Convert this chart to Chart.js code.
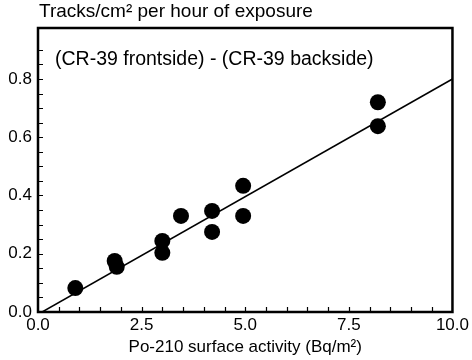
<!DOCTYPE html>
<html><head><meta charset="utf-8">
<script src="https://cdn.jsdelivr.net/npm/chart.js@4.4.0/dist/chart.umd.min.js"></script>
<style>html,body{margin:0;padding:0;background:#fff}canvas{display:block}</style>
</head><body>
<canvas id="c" width="472" height="360"></canvas>
<script>
const yAxisTitle = 'Tracks/cm² per hour of exposure';
const xAxisTitle = 'Po-210 surface activity (Bq/m²)';
const annotationText = '(CR-39 frontside) - (CR-39 backside)';
const xValues = [0.9, 1.85, 1.9, 3.0, 3.0, 3.45, 4.2, 4.2, 4.95, 4.95, 8.2, 8.2];
const yValues = [0.082, 0.175, 0.155, 0.244, 0.203, 0.33, 0.347, 0.275, 0.433, 0.33, 0.72, 0.638];
const fitX = [0.1, 10];
const fitY = [0, 0.80];
const xTickLabels = ['0.0', '2.5', '5.0', '7.5', '10.0'];
const yTickLabels = ['0.0', '0.2', '0.4', '0.6', '0.8'];

const FONT = '"Liberation Sans", Arial, Helvetica, sans-serif';

function labelFor(value, step, labels) {
  const i = Math.round(value / step);
  if (Math.abs(value - i * step) < 1e-6 && i >= 0 && i < labels.length) return labels[i];
  return '';
}

const framePlugin = {
  id: 'frame',
  afterDraw(chart) {
    const ctx = chart.ctx;
    const a = chart.chartArea;
    const xs = chart.scales.x, ys = chart.scales.y;
    ctx.save();
    ctx.strokeStyle = '#000';
    ctx.lineWidth = 1.2;
    ctx.beginPath();
    xs.ticks.forEach(t => {
      if (t.value <= xs.min + 1e-9 || t.value >= xs.max - 1e-9) return;
      const px = Math.round(xs.getPixelForValue(t.value)) + 0.5;
      ctx.moveTo(px, a.bottom);
      ctx.lineTo(px, a.bottom - 5);
    });
    ys.ticks.forEach(t => {
      if (t.value <= ys.min + 1e-9 || t.value >= ys.max - 1e-9) return;
      const py = Math.round(ys.getPixelForValue(t.value)) + 0.5;
      ctx.moveTo(a.left, py);
      ctx.lineTo(a.left + 5, py);
    });
    ctx.stroke();
    ctx.lineWidth = 2.5;
    ctx.strokeRect(a.left, a.top, a.right - a.left, a.bottom - a.top);
    ctx.fillStyle = '#000';
    ctx.textBaseline = 'middle';
    ctx.textAlign = 'left';
    ctx.font = '19px ' + FONT;
    ctx.fillText(yAxisTitle, a.left + 1, 12);
    ctx.font = '19.5px ' + FONT;
    ctx.fillText(annotationText, a.left + 17, 60);
    ctx.restore();
  }
};

new Chart(document.getElementById('c'), {
  type: 'scatter',
  data: {
    datasets: [
      {
        type: 'line',
        data: fitX.map((x, i) => ({x: x, y: fitY[i]})),
        borderColor: '#000',
        borderWidth: 1.5,
        pointRadius: 0,
        fill: false,
        order: 2
      },
      {
        data: xValues.map((x, i) => ({x: x, y: yValues[i]})),
        backgroundColor: '#000',
        borderColor: '#000',
        borderWidth: 0,
        pointRadius: 8,
        order: 1
      }
    ]
  },
  options: {
    responsive: false,
    animation: false,
    devicePixelRatio: 1,
    layout: {padding: {top: 28, right: 17, left: 0, bottom: 0}},
    plugins: {legend: {display: false}, tooltip: {enabled: false}},
    scales: {
      x: {
        type: 'linear', min: 0, max: 10,
        grid: {display: false, drawTicks: false},
        border: {display: false},
        ticks: {
          stepSize: 0.5, autoSkip: false, maxRotation: 0, padding: 3,
          color: '#000', font: {family: FONT, size: 17},
          callback: v => labelFor(v, 2.5, xTickLabels)
        },
        title: {display: true, text: xAxisTitle, color: '#000', font: {family: FONT, size: 17}, padding: {top: 0, bottom: 2}},
        afterFit: s => { s.height = 48; }
      },
      y: {
        type: 'linear', min: 0, max: 0.975,
        grid: {display: false, drawTicks: false},
        border: {display: false},
        ticks: {
          stepSize: 0.05, autoSkip: false, padding: 6,
          color: '#000', font: {family: FONT, size: 17},
          callback: v => labelFor(v, 0.2, yTickLabels)
        },
        afterFit: s => { s.width = 38; }
      }
    }
  },
  plugins: [framePlugin]
});
</script>
</body></html>
